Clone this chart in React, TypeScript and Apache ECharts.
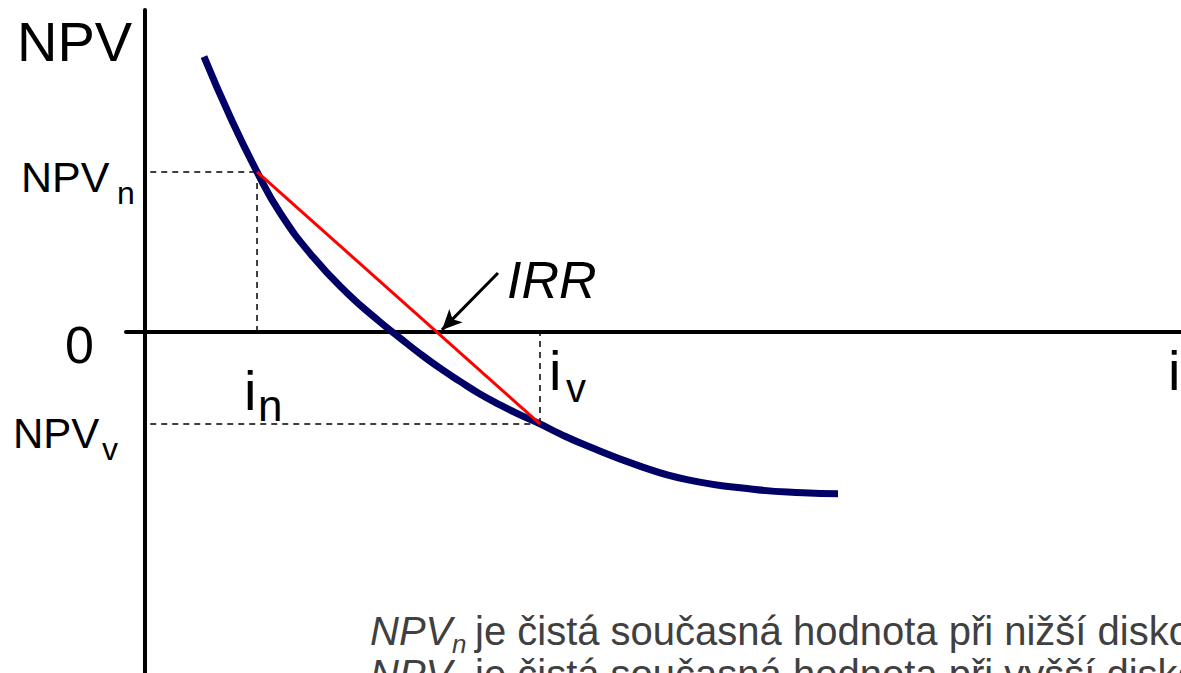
import React, { useEffect, useRef } from "react";
import * as echarts from "echarts";

// Curve: NPV as a function of the discount rate i
const curveI = [5.59, 8.06, 10.62, 12.8, 15.92, 19.15, 22.27, 24.17, 26.07, 27.96, 29.86, 31.75, 33.65, 35.55, 37.44, 39.34, 41.9, 46.64, 51.37, 57.63, 62.37, 65.69];
const curveNPV = [85.5, 66.9, 49.7, 37.0, 23.3, 12.1, 3.1, -1.9, -6.8, -11.3, -15.4, -19.3, -22.7, -25.8, -28.6, -31.7, -35.4, -41.4, -45.9, -48.9, -50.0, -50.3];

// lower / higher discount rate points
const iN = 10.62;
const npvN = 49.7;
const iV = 37.44;
const npvV = -28.6;

// arrow pointing at IRR
const arrowFrom = [33.46, 18.3];
const arrowTo = [28.15, 0.6];

const line1Rest = "je čistá současná hodnota při nižší diskontní sazbě";
const line2Rest = "je čistá současná hodnota při vyšší diskontní sazbě";

const FONT = "'Liberation Sans', Arial, sans-serif";

function txt(text: string, x: number, baseline: number, size: number, opts: any = {}) {
  return {
    type: "text",
    silent: true,
    style: {
      text,
      x,
      y: baseline - 0.3465 * size,
      font: `${opts.italic ? "italic " : ""}${size}px ${FONT}`,
      fill: opts.color || "#000",
      align: "left",
      verticalAlign: "middle",
      textAlign: "left",
      textVerticalAlign: "middle",
    },
    z: 10,
  };
}

export default function App() {
  const ref = useRef<HTMLDivElement>(null);
  useEffect(() => {
    if (!ref.current) return;
    const chart = echarts.init(ref.current, null, { renderer: "svg" });
    const curve = curveI.map((x, k) => [x, curveNPV[k]]);
    const dash = { color: "#000", width: 1.5, type: [6, 5] as any };
    const dashSeries = (pts: number[][]) => ({
      type: "line",
      data: pts,
      showSymbol: false,
      symbol: "none",
      lineStyle: dash,
      silent: true,
      z: 1,
    });
    chart.setOption({
      animation: false,
      grid: { left: 126, right: 0, top: 10, bottom: 0 },
      xAxis: {
        type: "value",
        min: -1.8,
        max: 98.2,
        axisLine: { onZero: true, lineStyle: { color: "#000", width: 4 } },
        axisTick: { show: false },
        axisLabel: { show: false },
        splitLine: { show: false },
      },
      yAxis: {
        type: "value",
        min: -106,
        max: 100,
        axisLine: { onZero: true, lineStyle: { color: "#000", width: 4 } },
        axisTick: { show: false },
        axisLabel: { show: false },
        splitLine: { show: false },
      },
      series: [
        dashSeries([[0.5, npvN], [iN, npvN]]),
        dashSeries([[iN, npvN], [iN, 0]]),
        dashSeries([[0.5, npvV], [iV, npvV]]),
        dashSeries([[iV, npvV], [iV, 0]]),
        {
          type: "line",
          data: curve,
          smooth: 0.5,
          showSymbol: false,
          symbol: "none",
          lineStyle: { color: "#000066", width: 7, cap: "butt" },
          silent: true,
          z: 2,
        },
        {
          type: "line",
          data: [[iN, npvN], [iV, npvV]],
          showSymbol: false,
          symbol: "none",
          lineStyle: { color: "#ff0000", width: 3 },
          silent: true,
          z: 3,
          markLine: {
            silent: true,
            animation: false,
            symbol: ["none", "arrow"],
            symbolSize: [14, 20],
            label: { show: false },
            lineStyle: { color: "#000", width: 3, type: "solid" },
            data: [[{ coord: arrowFrom }, { coord: arrowTo }]],
          },
        },
      ],
      graphic: [
        txt("NPV", 17, 61, 56),
        txt("NPV", 21, 192, 43),
        txt("n", 117, 204, 32),
        txt("0", 65, 363, 52),
        txt("NPV", 13, 448, 42),
        txt("v", 102, 460, 32),
        txt("i", 244, 410, 56),
        txt("n", 258, 421, 44),
        txt("i", 549, 390, 56),
        txt("v", 566, 402, 40),
        txt("i", 1168, 390, 56),
        txt("IRR", 507, 298, 52, { italic: true }),
        txt("NPV", 370, 645, 40, { italic: true, color: "#404040" }),
        txt("n", 452, 653, 26, { italic: true, color: "#404040" }),
        txt(line1Rest, 475, 645, 40, { color: "#404040" }),
        txt("NPV", 370, 688, 40, { italic: true, color: "#404040" }),
        txt("v", 452, 696, 26, { italic: true, color: "#404040" }),
        txt(line2Rest, 475, 688, 40, { color: "#404040" }),
      ],
    });
    return () => chart.dispose();
  }, []);
  return (
    <div
      ref={ref}
      style={{ position: "absolute", left: 0, top: 0, width: 1181, height: 673, background: "#fff" }}
    />
  );
}
